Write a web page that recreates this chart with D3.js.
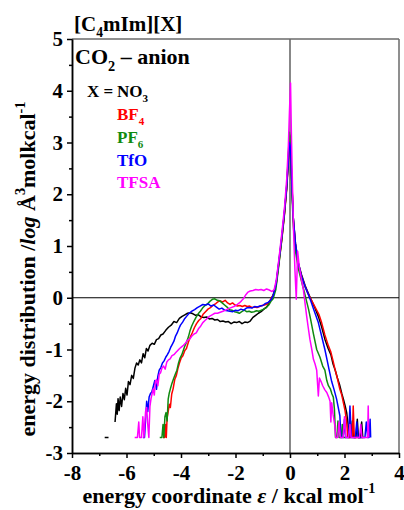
<!DOCTYPE html>
<html>
<head>
<meta charset="utf-8">
<script src="https://cdn.jsdelivr.net/npm/d3@7"></script>
<style>
  body { margin: 0; background: #fff; }
  svg { display: block; }
</style>
</head>
<body>
<div id="chart"></div>
<script>
// energy distribution curves, [epsilon, log value]; null breaks the line
var no3 = [
  [-6.80,-2.70],[-6.66,-2.70],null,
  [-6.42,-2.40],[-6.37,-2.05],[-6.34,-2.25],[-6.31,-1.95],[-6.27,-2.18],[-6.23,-1.92],[-6.18,-2.10],[-6.13,-1.85],
  [-6.08,-1.97],[-6.03,-1.75],[-5.98,-1.88],[-5.93,-1.62],[-5.87,-1.68],[-5.81,-1.50],[-5.75,-1.56],[-5.69,-1.36],
  [-5.63,-1.26],[-5.57,-1.30],[-5.51,-1.20],[-5.45,-1.26],[-5.39,-1.08],[-5.33,-1.16],[-5.27,-0.98],[-5.21,-1.03],
  [-5.14,-0.92],[-5.06,-0.88],[-4.98,-0.90],[-4.90,-0.81],[-4.82,-0.79],[-4.74,-0.72],[-4.66,-0.70],[-4.56,-0.63],
  [-4.46,-0.57],[-4.36,-0.53],[-4.26,-0.46],[-4.16,-0.48],[-4.06,-0.40],[-3.96,-0.36],[-3.86,-0.33],[-3.76,-0.30],
  [-3.66,-0.29],[-3.56,-0.31],[-3.46,-0.34],[-3.36,-0.33],[-3.26,-0.37],[-3.16,-0.38],[-3.06,-0.37],[-2.96,-0.41],
  [-2.86,-0.40],[-2.76,-0.43],[-2.66,-0.42],[-2.56,-0.46],[-2.46,-0.45],[-2.36,-0.47],[-2.26,-0.46],[-2.16,-0.50],
  [-2.06,-0.47],[-1.96,-0.48],[-1.86,-0.46],[-1.76,-0.50],[-1.66,-0.47],[-1.56,-0.48],[-1.46,-0.45],[-1.36,-0.38],
  [-1.26,-0.34],[-1.16,-0.30],[-1.06,-0.27],[-0.96,-0.22],[-0.86,-0.18],[-0.76,-0.10],[-0.68,-0.02],[-0.60,0.08],
  [-0.50,0.30],[-0.40,0.72],[-0.30,1.15],[-0.20,1.65],[-0.12,2.15],[-0.06,2.70],[-0.02,3.15],[0.02,3.05],
  [0.06,2.35],[0.12,1.55],[0.20,1.05],[0.30,0.68],[0.42,0.45],[0.55,0.24],[0.66,0.10],[0.76,-0.02],
  [0.90,-0.18],[1.04,-0.36],[1.16,-0.56],[1.28,-0.80],[1.40,-0.98],[1.50,-1.10],[1.58,-1.28],[1.66,-1.40],
  [1.74,-1.55],[1.82,-1.68],[1.90,-1.85],[1.96,-1.96],[2.02,-2.08],[2.08,-2.22],[2.13,-2.45],[2.17,-2.70],
  [2.24,-2.70],[2.29,-2.38],[2.33,-2.70],[2.42,-2.70],[2.47,-2.35],[2.51,-2.70],[2.58,-2.70],[2.63,-2.40],[2.67,-2.70]
];

var bf4 = [
  [-4.66,-2.70],[-4.60,-2.70],[-4.57,-2.45],[-4.54,-2.70],[-4.51,-2.32],[-4.47,-2.20],[-4.43,-2.06],[-4.39,-2.12],
  [-4.34,-1.86],[-4.29,-1.76],[-4.23,-1.58],[-4.17,-1.50],[-4.11,-1.36],[-4.05,-1.25],[-3.99,-1.16],[-3.93,-1.12],
  [-3.86,-1.02],[-3.80,-0.98],[-3.73,-0.86],[-3.66,-0.76],[-3.59,-0.68],[-3.51,-0.58],[-3.43,-0.50],[-3.35,-0.44],
  [-3.27,-0.40],[-3.19,-0.32],[-3.10,-0.27],[-3.01,-0.22],[-2.92,-0.19],[-2.83,-0.15],[-2.74,-0.12],[-2.65,-0.08],
  [-2.56,-0.06],[-2.47,-0.08],[-2.38,-0.05],[-2.29,-0.10],[-2.20,-0.13],[-2.11,-0.10],[-2.02,-0.14],[-1.93,-0.16],
  [-1.84,-0.15],[-1.75,-0.17],[-1.66,-0.15],[-1.57,-0.17],[-1.48,-0.16],[-1.39,-0.19],[-1.30,-0.18],[-1.21,-0.19],
  [-1.12,-0.17],[-1.03,-0.15],[-0.94,-0.14],[-0.85,-0.12],[-0.76,-0.08],[-0.68,0.00],[-0.60,0.06],[-0.50,0.28],
  [-0.40,0.70],[-0.30,1.12],[-0.20,1.62],[-0.12,2.10],[-0.06,2.60],[-0.02,3.05],[0.02,2.95],[0.06,2.30],
  [0.12,1.52],[0.20,1.02],[0.30,0.66],[0.42,0.42],[0.55,0.22],[0.68,0.06],[0.80,-0.06],[0.92,-0.18],
  [1.06,-0.32],[1.16,-0.48],[1.28,-0.72],[1.41,-0.93],[1.50,-1.05],[1.58,-1.22],[1.65,-1.38],[1.74,-1.56],
  [1.83,-1.77],[1.90,-1.88],[1.96,-2.03],[2.02,-2.18],[2.08,-2.40],[2.12,-2.70],[2.20,-2.70],[2.25,-2.45],
  [2.29,-2.70],[2.32,-2.09],[2.36,-2.70],[2.50,-2.70],[2.69,-2.70]
];

var pf6 = [
  [-4.78,-2.70],[-4.70,-2.70],[-4.66,-2.45],[-4.63,-2.70],[-4.59,-2.30],[-4.55,-2.22],[-4.51,-2.38],[-4.47,-1.96],
  [-4.43,-1.84],[-4.39,-1.76],[-4.33,-1.65],[-4.27,-1.56],[-4.21,-1.48],[-4.15,-1.40],[-4.09,-1.26],[-4.03,-1.16],
  [-3.97,-1.10],[-3.91,-1.01],[-3.85,-0.92],[-3.79,-0.85],[-3.73,-0.76],[-3.67,-0.64],[-3.61,-0.55],[-3.53,-0.46],
  [-3.45,-0.38],[-3.37,-0.31],[-3.29,-0.26],[-3.21,-0.20],[-3.12,-0.15],[-3.03,-0.12],[-2.94,-0.07],[-2.85,-0.03],
  [-2.76,-0.02],[-2.67,-0.05],[-2.58,-0.06],[-2.49,-0.10],[-2.40,-0.14],[-2.31,-0.18],[-2.22,-0.23],[-2.13,-0.24],
  [-2.04,-0.27],[-1.95,-0.28],[-1.86,-0.30],[-1.77,-0.27],[-1.68,-0.24],[-1.59,-0.27],[-1.50,-0.26],[-1.41,-0.28],
  [-1.32,-0.27],[-1.23,-0.25],[-1.14,-0.26],[-1.05,-0.24],[-0.96,-0.22],[-0.87,-0.19],[-0.78,-0.14],[-0.70,-0.07],
  [-0.62,-0.02],[-0.52,0.16],[-0.42,0.58],[-0.32,1.05],[-0.22,1.55],[-0.13,2.08],[-0.07,2.65],[-0.02,3.20],
  [0.02,3.05],[0.06,2.20],[0.12,1.40],[0.20,0.90],[0.30,0.58],[0.42,0.32],[0.52,0.12],[0.60,-0.05],
  [0.68,-0.22],[0.75,-0.40],[0.86,-0.70],[0.98,-1.00],[1.10,-1.15],[1.20,-1.32],[1.28,-1.40],[1.35,-1.60],
  [1.41,-1.70],[1.48,-1.76],[1.54,-1.86],[1.59,-1.92],[1.63,-2.15],[1.67,-2.70],[1.72,-2.70],[1.76,-2.38],
  [1.80,-2.70],[1.88,-2.70],[1.92,-2.45],[1.96,-2.70],[2.06,-2.70]
];

var tfo = [
  [-5.40,-2.70],[-5.34,-2.70],[-5.30,-2.35],[-5.26,-2.00],[-5.22,-2.20],[-5.17,-1.92],[-5.12,-1.85],[-5.07,-1.82],
  [-5.02,-1.72],[-4.96,-1.60],[-4.90,-1.77],[-4.85,-1.52],[-4.80,-1.40],[-4.74,-1.35],[-4.68,-1.26],[-4.62,-1.22],
  [-4.56,-1.15],[-4.50,-1.10],[-4.44,-1.04],[-4.38,-0.96],[-4.32,-0.90],[-4.26,-0.84],[-4.20,-0.74],[-4.14,-0.68],
  [-4.08,-0.60],[-4.02,-0.53],[-3.94,-0.47],[-3.86,-0.40],[-3.78,-0.35],[-3.70,-0.30],[-3.60,-0.26],[-3.50,-0.23],
  [-3.40,-0.19],[-3.30,-0.16],[-3.20,-0.13],[-3.10,-0.14],[-3.00,-0.12],[-2.90,-0.16],[-2.80,-0.14],[-2.70,-0.18],
  [-2.60,-0.22],[-2.50,-0.20],[-2.40,-0.24],[-2.30,-0.25],[-2.20,-0.26],[-2.10,-0.27],[-2.00,-0.24],[-1.90,-0.25],
  [-1.80,-0.22],[-1.70,-0.24],[-1.60,-0.20],[-1.50,-0.19],[-1.40,-0.20],[-1.30,-0.17],[-1.20,-0.18],[-1.10,-0.16],
  [-1.00,-0.15],[-0.90,-0.11],[-0.80,-0.09],[-0.70,-0.04],[-0.62,0.04],[-0.52,0.24],[-0.42,0.66],[-0.32,1.10],
  [-0.22,1.58],[-0.13,2.10],[-0.07,2.55],[-0.02,3.00],[0.02,2.90],[0.06,2.30],[0.12,1.55],[0.20,1.05],
  [0.30,0.68],[0.42,0.42],[0.55,0.22],[0.66,0.08],[0.76,-0.06],[0.88,-0.24],[1.04,-0.48],[1.16,-0.74],
  [1.28,-1.00],[1.36,-1.20],[1.43,-1.38],[1.53,-1.62],[1.62,-1.78],[1.71,-1.96],[1.77,-2.12],[1.83,-2.28],
  [1.87,-2.70],[1.95,-2.70],[2.00,-2.35],[2.04,-2.70],[2.15,-2.70],[2.20,-2.09],[2.25,-2.70],[2.40,-2.70],
  [2.45,-2.40],[2.50,-2.70],[2.75,-2.70],[2.80,-2.40],[2.85,-2.70],[2.90,-2.70],[2.94,-2.35],[2.96,-2.70]
];

var tfsa = [
  [-5.70,-2.70],[-5.60,-2.70],[-5.55,-2.40],[-5.52,-2.70],[-5.45,-2.70],[-5.40,-2.30],[-5.36,-2.70],[-5.30,-2.20],
  [-5.26,-2.12],[-5.22,-2.45],[-5.18,-2.70],[-5.14,-2.10],[-5.10,-1.95],[-5.06,-1.85],[-5.02,-1.76],[-4.98,-1.88],
  [-4.94,-1.62],[-4.90,-1.58],[-4.85,-1.70],[-4.80,-1.48],[-4.75,-1.45],[-4.70,-1.36],[-4.64,-1.32],[-4.58,-1.38],
  [-4.52,-1.24],[-4.46,-1.20],[-4.40,-1.18],[-4.33,-1.12],[-4.26,-1.10],[-4.19,-1.06],[-4.12,-1.02],[-4.05,-0.98],
  [-3.98,-0.95],[-3.91,-0.92],[-3.84,-0.88],[-3.76,-0.82],[-3.68,-0.80],[-3.60,-0.74],[-3.52,-0.70],[-3.44,-0.68],
  [-3.36,-0.60],[-3.28,-0.55],[-3.20,-0.48],[-3.12,-0.44],[-3.04,-0.40],[-2.96,-0.36],[-2.86,-0.33],[-2.76,-0.30],
  [-2.66,-0.30],[-2.56,-0.28],[-2.46,-0.26],[-2.36,-0.24],[-2.26,-0.21],[-2.16,-0.19],[-2.06,-0.17],[-1.96,-0.14],
  [-1.86,-0.10],[-1.78,-0.06],[-1.71,-0.02],[-1.62,0.06],[-1.54,0.11],[-1.46,0.13],[-1.36,0.14],[-1.26,0.16],
  [-1.16,0.15],[-1.06,0.16],[-0.96,0.14],[-0.86,0.17],[-0.76,0.15],[-0.66,0.12],[-0.58,0.16],[-0.50,0.35],
  [-0.40,0.78],[-0.30,1.25],[-0.20,1.75],[-0.12,2.30],[-0.06,2.95],[-0.02,3.60],[0.02,4.15],[0.05,3.20],
  [0.09,2.20],[0.13,1.30],[0.18,0.55],[0.23,-0.03],[0.28,0.90],[0.34,0.60],[0.42,0.35],[0.49,0.16],
  [0.55,-0.10],[0.61,-0.35],[0.67,-0.58],[0.73,-0.80],[0.80,-1.00],[0.86,-1.19],[0.92,-1.28],[0.98,-1.40],
  [1.04,-1.90],[1.08,-1.55],[1.14,-1.62],[1.20,-1.70],[1.28,-1.78],[1.35,-1.83],[1.42,-1.92],[1.47,-2.00],
  [1.50,-2.40],[1.53,-2.03],[1.58,-2.25],[1.64,-2.45],[1.68,-2.70],[1.75,-2.70],[1.80,-2.40],[1.85,-2.70],
  [1.95,-2.70],[2.00,-2.30],[2.05,-2.70],[2.15,-2.70],[2.20,-2.45],[2.24,-2.70],[2.55,-2.70],[2.60,-2.45],
  [2.64,-2.70],[2.85,-2.70],[2.87,-2.09],[2.89,-2.70]
];

var seriesNames = ["NO3", "BF4", "PF6", "TfO", "TFSA"];
var seriesData = [no3, bf4, pf6, tfo, tfsa];
var seriesColors = ["#000000", "#ff0000", "#108a10", "#0000ff", "#ff00ff"];

var xTicks = [-8, -6, -4, -2, 0, 2, 4];
var xMinor = [-7, -5, -3, -1, 1, 3];
var yTicks = [-3, -2, -1, 0, 1, 2, 3, 4, 5];
var yMinor = [-2.5, -1.5, -0.5, 0.5, 1.5, 2.5, 3.5, 4.5];

var width = 404, height = 510;
var font = "'Liberation Serif', 'Times New Roman', serif";

var svg = d3.select('#chart').append('svg')
  .attr('width', width)
  .attr('height', height)
  .style('font-family', font);

svg.append('rect').attr('width', width).attr('height', height).attr('fill', '#fff');

var x = d3.scaleLinear().domain([-8, 4]).range([72, 399]);
var y = d3.scaleLinear().domain([-3, 5]).range([453, 39]);

// frame: top and right in grey
svg.append('line')
  .attr('x1', x(-8)).attr('x2', x(4)).attr('y1', y(5)).attr('y2', y(5))
  .attr('stroke', '#6a6a6a').attr('stroke-width', 1.5);
svg.append('line')
  .attr('x1', x(4)).attr('x2', x(4)).attr('y1', y(5)).attr('y2', y(-3))
  .attr('stroke', '#6a6a6a').attr('stroke-width', 1.5);

// zero lines
svg.append('line')
  .attr('x1', x(0)).attr('x2', x(0)).attr('y1', y(5)).attr('y2', y(-3))
  .attr('stroke', '#6a6a6a').attr('stroke-width', 1.6);
svg.append('line')
  .attr('x1', x(-8)).attr('x2', x(4)).attr('y1', y(0)).attr('y2', y(0))
  .attr('stroke', '#000').attr('stroke-width', 1.2);

// curves
var line = d3.line()
  .defined(function(d) { return d !== null; })
  .x(function(d) { return x(d[0]); })
  .y(function(d) { return y(d[1]); });

seriesData.forEach(function(data, i) {
  svg.append('path')
    .datum(data)
    .attr('fill', 'none')
    .attr('stroke', seriesColors[i])
    .attr('stroke-width', 1.5)
    .attr('stroke-linejoin', 'round')
    .attr('d', line);
});

// axes
function styleAxis(g) {
  g.selectAll('path, line').attr('stroke', '#000').attr('stroke-width', 1.5);
  g.selectAll('text')
    .attr('fill', '#000')
    .style('font-family', font)
    .style('font-weight', 'bold')
    .style('font-size', '21px');
}

svg.append('g')
  .attr('transform', 'translate(0,' + y(-3) + ')')
  .call(d3.axisBottom(x).tickValues(xMinor).tickSize(3).tickSizeOuter(0).tickFormat(''))
  .call(styleAxis);
svg.append('g')
  .attr('transform', 'translate(0,' + y(-3) + ')')
  .call(d3.axisBottom(x).tickValues(xTicks).tickSize(5).tickSizeOuter(0).tickPadding(7)
    .tickFormat(function(d) { return String(d); }))
  .call(styleAxis);

svg.append('g')
  .attr('transform', 'translate(' + x(-8) + ',0)')
  .call(d3.axisLeft(y).tickValues(yMinor).tickSize(3).tickSizeOuter(0).tickFormat(''))
  .call(styleAxis);
svg.append('g')
  .attr('transform', 'translate(' + x(-8) + ',0)')
  .call(d3.axisLeft(y).tickValues(yTicks).tickSize(5).tickSizeOuter(0).tickPadding(4)
    .tickFormat(function(d) { return String(d); }))
  .call(styleAxis);

// text with sub/superscripts
function rich(sel, parts, size) {
  var shift = 0;
  parts.forEach(function(p) {
    var ts = sel.append('tspan').text(p[0]);
    var target = 0;
    if (p[1] === 'sub') { target = size * 0.3; ts.attr('font-size', size * 0.65); }
    if (p[1] === 'sup') { target = -size * 0.45; ts.attr('font-size', size * 0.65); }
    if (p[1] === 'i') ts.attr('font-style', 'italic');
    ts.attr('dy', target - shift);
    shift = target;
  });
  return sel;
}

function label(px, py, size, color) {
  return svg.append('text')
    .attr('x', px).attr('y', py)
    .attr('fill', color || '#000')
    .attr('font-size', size)
    .attr('font-weight', 'bold');
}

rich(label(74, 31, 21), [['[C'], ['4', 'sub'], ['mIm][X]']], 21);
rich(label(75, 64, 22), [['CO'], ['2', 'sub'], [' \u2013 anion']], 22);

label(87, 97, 17).text('X = ');
var legendY = [97, 120, 143, 166, 188];
seriesNames.forEach(function(name, i) {
  var m = name.match(/^(.*?)(\d)$/);
  var parts = m ? [[m[1]], [m[2], 'sub']] : [[name]];
  rich(label(117, legendY[i], 17, seriesColors[i]), parts, 17);
});

rich(label(229, 503, 22).attr('text-anchor', 'middle'),
  [['energy coordinate '], ['\u03b5', 'i'], [' / kcal mol'], ['-1', 'sup']], 22);

rich(svg.append('text')
    .attr('transform', 'translate(35,269) rotate(-90)')
    .attr('text-anchor', 'middle')
    .attr('font-size', 22)
    .attr('font-weight', 'bold'),
  [['energy distribution /'], ['log', 'i'], [' \u00c5'], ['3', 'sup'], ['molkcal'], ['-1', 'sup']], 22);
</script>
</body>
</html>
